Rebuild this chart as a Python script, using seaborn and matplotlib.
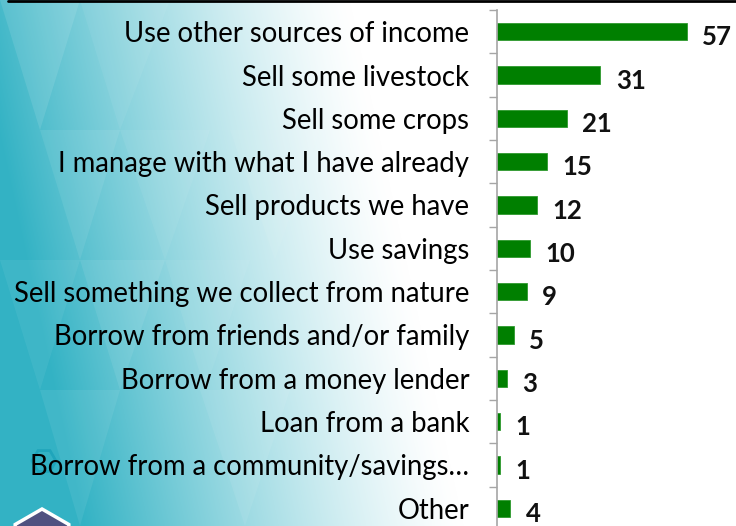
import numpy as np
import matplotlib
matplotlib.use("Agg")
import matplotlib.pyplot as plt
from matplotlib.patches import Polygon, RegularPolygon
from matplotlib.lines import Line2D
import seaborn as sns

categories = [
    "Use other sources of income",
    "Sell some livestock",
    "Sell some crops",
    "I manage with what I have already",
    "Sell products we have",
    "Use savings",
    "Sell something we collect from nature",
    "Borrow from friends and/or family",
    "Borrow from a money lender",
    "Loan from a bank",
    "Borrow from a community/savings\u2026",
    "Other",
]
values = [57, 31, 21, 15, 12, 10, 9, 5, 3, 1, 1, 4]

sns.set_theme(style="white")
plt.rcParams["font.family"] = ["Lato", "DejaVu Sans"]

W, H = 736, 526
fig = plt.figure(figsize=(W / 100, H / 100), dpi=100)

# --- teal faceted backdrop fading to white towards the right ---
bg = fig.add_axes([0, 0, 1, 1], zorder=0)
xx, yy = np.meshgrid(np.arange(W), np.arange(H))
t = np.clip(1.0 - xx / 380.0 + 0.3 * (yy / H) - 0.08, 0, 1) ** 1.3
teal = np.array([0.20, 0.70, 0.77])
white = np.array([1.0, 1.0, 1.0])
img = white[None, None, :] * (1 - t[..., None]) + teal[None, None, :] * t[..., None]
bg.imshow(img, extent=[0, W, H, 0], aspect="auto", interpolation="bilinear")
bg.set_xlim(0, W)
bg.set_ylim(H, 0)
bg.axis("off")

facets = [
    ([(0, 0), (80, 0), (40, 130)], 0.10),
    ([(80, 0), (170, 0), (120, 130)], 0.06),
    ([(40, 130), (120, 130), (80, 260)], 0.08),
    ([(120, 130), (210, 130), (165, 260)], 0.06),
    ([(0, 260), (80, 260), (40, 390)], 0.06),
    ([(80, 260), (165, 260), (120, 390)], 0.08),
    ([(165, 260), (250, 260), (205, 390)], 0.06),
    ([(40, 390), (120, 390), (80, 526)], 0.07),
    ([(200, 390), (290, 390), (245, 526)], 0.07),
    ([(230, 130), (320, 130), (275, 260)], 0.06),
]
for pts, a in facets:
    bg.add_patch(Polygon(pts, closed=True, facecolor="white", edgecolor="none", alpha=a))

# decorative hexagons
bg.add_patch(RegularPolygon((44, 461), numVertices=6, radius=12, orientation=np.pi / 6,
                            facecolor="none", edgecolor="#1fa5bb", lw=2))
bg.add_patch(RegularPolygon((42, 540), numVertices=6, radius=31, orientation=0,
                            facecolor="#4f5180", edgecolor="white", lw=2.5))

# --- bar chart ---
ax = fig.add_axes([497 / W, -4 / H, 1 - 497 / W, 520 / H], zorder=1)
ax.patch.set_alpha(0)
sns.barplot(x=values, y=categories, orient="h", color="#007f00", saturation=1,
            width=0.4, edgecolor="#2e9a2e", linewidth=0.6, ax=ax)
ax.set_xlim(0, 71.7)
ax.set_ylim(11.5, -0.5)
ax.set_xlabel("")
ax.set_ylabel("")
ax.set_xticks([])

for s in ["top", "right", "bottom"]:
    ax.spines[s].set_visible(False)
ax.spines["left"].set_color("#a6a6a6")
ax.spines["left"].set_linewidth(1.2)

ax.set_yticks(np.arange(-0.5, len(categories), 1.0), minor=True)
ax.tick_params(axis="y", which="minor", direction="out", length=6, width=1,
               color="#a6a6a6", left=True)
ax.tick_params(axis="y", which="major", length=0, pad=20, labelsize=19.8,
               labelcolor="black")

for i, v in enumerate(values):
    ax.text(v + 4.6, i + 0.13, str(v), ha="left", va="center",
            fontsize=18.5, fontweight="bold", color="#111111")

fig.add_artist(Line2D([8 / W, 1], [1 - 1 / H, 1 - 1 / H], color="black", lw=2))

fig.savefig("out.png", dpi=100)
